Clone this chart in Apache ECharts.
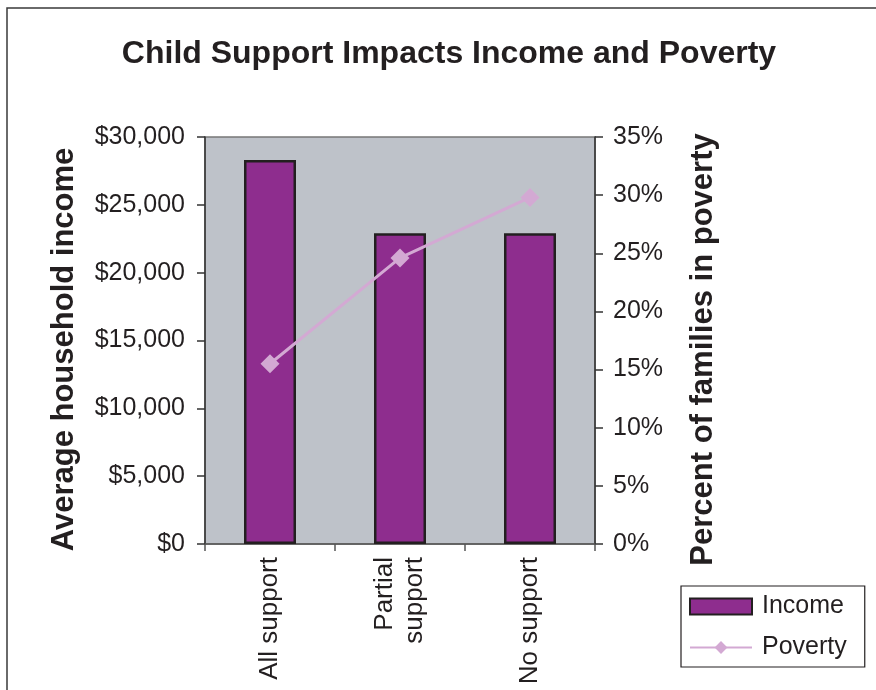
<!DOCTYPE html>
<html><head><meta charset="utf-8">
<script src="https://cdn.jsdelivr.net/npm/echarts@6/dist/echarts.min.js"></script>
<style>html,body{margin:0;padding:0;background:#fff;}#c{width:876px;height:690px;}</style>
</head><body><div id="c"></div>
<script>
const categories = ['All support', 'Partial\nsupport', 'No support'];
const incomeValues = [28300, 22900, 22900];
const povertyValues = [15.5, 24.6, 29.8];
const FONT = 'Liberation Sans, Arial, sans-serif';
const chart = echarts.init(document.getElementById('c'));
chart.setOption({
  animation: false,
  backgroundColor: '#fff',
  textStyle: { fontFamily: FONT, color: '#231F20' },
  graphic: [{
    type: 'rect', shape: { x: 7, y: 8, width: 900, height: 720 },
    style: { fill: 'none', stroke: '#3a3a3a', lineWidth: 1.5 }, silent: true, z: -1
  }],
  title: {
    text: 'Child Support Impacts Income and Poverty',
    left: 444, textAlign: 'center', top: 33,
    textStyle: { fontFamily: FONT, fontWeight: 'bold', fontSize: 32, color: '#231F20' }
  },
  legend: {
    orient: 'vertical', left: 681, top: 586,
    padding: [8, 18, 7, 8], itemGap: 16,
    borderColor: '#231F20', borderWidth: 1.2, backgroundColor: '#fff',
    itemWidth: 62, itemHeight: 16,
    textStyle: { fontFamily: FONT, fontSize: 25, color: '#231F20', padding: [4, 0, 0, 5] },
    data: [
      { name: 'Income', icon: 'rect' },
      { name: 'Poverty' }
    ]
  },
  grid: { left: 205, right: 281, top: 137, bottom: 146, show: true,
          backgroundColor: '#BEC2C9', borderColor: '#777', borderWidth: 1.5 },
  xAxis: {
    type: 'category', data: categories,
    axisLine: { lineStyle: { color: '#555', width: 1.5 } },
    axisTick: { show: true, length: 7, lineStyle: { color: '#555', width: 1.5 } },
    axisLabel: { rotate: 90, fontSize: 26, color: '#231F20', margin: 13, fontFamily: FONT, lineHeight: 30 }
  },
  yAxis: [{
    type: 'value', min: 0, max: 30000, interval: 5000, position: 'left',
    name: 'Average household income', nameLocation: 'middle', nameRotate: 90, nameGap: 125,
    nameTextStyle: { fontFamily: FONT, fontWeight: 'bold', fontSize: 31, color: '#231F20', padding: [0, 18, 0, 0] },
    splitLine: { show: false },
    axisLine: { show: true, lineStyle: { color: '#333', width: 1.5 } },
    axisTick: { show: true, length: 8, lineStyle: { color: '#333', width: 1.5 } },
    axisLabel: { fontSize: 25, color: '#231F20', margin: 20, fontFamily: FONT,
      formatter: v => '$' + v.toLocaleString('en-US') }
  }, {
    type: 'value', min: 0, max: 35, interval: 5, position: 'right',
    name: 'Percent of families in poverty', nameLocation: 'middle', nameRotate: 90, nameGap: 93,
    nameTextStyle: { fontFamily: FONT, fontWeight: 'bold', fontSize: 31, color: '#231F20', padding: [0, 18, 0, 0] },
    splitLine: { show: false },
    axisLine: { show: true, lineStyle: { color: '#333', width: 1.5 } },
    axisTick: { show: true, length: 8, lineStyle: { color: '#333', width: 1.5 } },
    axisLabel: { fontSize: 25, color: '#231F20', margin: 18, fontFamily: FONT,
      formatter: v => v + '%' }
  }],
  series: [{
    name: 'Income', type: 'bar', data: incomeValues, yAxisIndex: 0,
    barWidth: 52,
    itemStyle: { color: '#8E2D8E', borderColor: '#231F20', borderWidth: 2.5 }
  }, {
    name: 'Poverty', type: 'line', data: povertyValues, yAxisIndex: 1,
    symbol: 'diamond', symbolSize: 19,
    lineStyle: { color: '#D3A9D3', width: 3 },
    itemStyle: { color: '#D3A9D3' }
  }]
});
</script></body></html>
